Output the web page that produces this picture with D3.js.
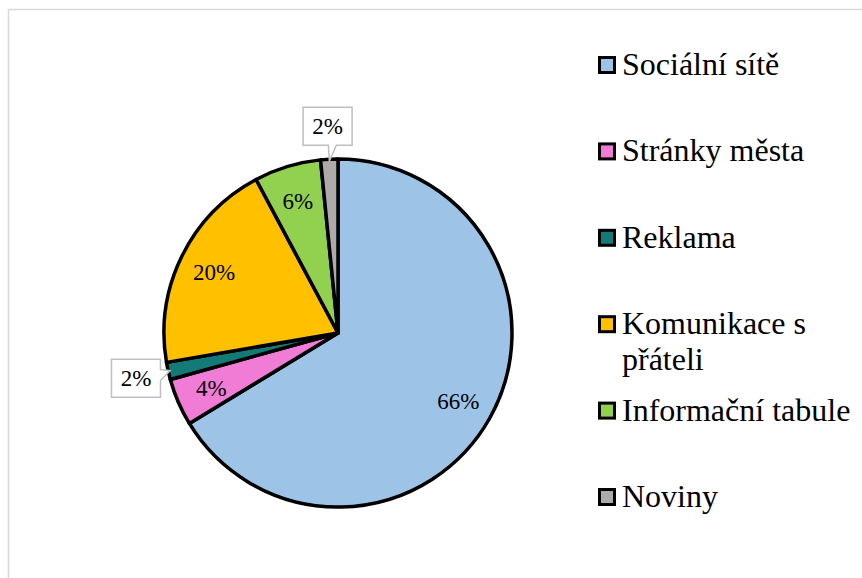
<!DOCTYPE html>
<html>
<head>
<meta charset="utf-8">
<script src="https://cdn.jsdelivr.net/npm/d3@7"></script>
</head>
<body style="margin:0">
<svg></svg>
<script>
// data (shares in %)
const categories = ["Sociální sítě", "Stránky města", "Reklama", "Komunikace s přáteli", "Informační tabule", "Noviny"];
const legendLines = [["Sociální sítě"], ["Stránky města"], ["Reklama"], ["Komunikace s", "přáteli"], ["Informační tabule"], ["Noviny"]];
const values = [66.3, 4.4, 1.6, 19.9, 6.2, 1.6];
const colors = ["#9dc3e6", "#f07cd6", "#137a78", "#ffc000", "#92d050", "#aeaaaa"];
// slices whose label sits in a callout box outside the pie
const callouts = ["Reklama", "Noviny"];

const width = 862;
const height = 578;
const cx = 338, cy = 333;
const radius = 174;

const svg = d3.select("svg")
    .attr("width", width)
    .attr("height", height);

// chart area border (only top and left visible)
svg.append("rect")
    .attr("x", 8.5).attr("y", 9.5)
    .attr("width", width + 20).attr("height", height + 20)
    .attr("fill", "none")
    .attr("stroke", "#d9d9d9")
    .attr("stroke-width", 1.5);

const data = categories.map((c, i) => ({name: c, value: values[i]}));
const total = d3.sum(values);

const color = d3.scaleOrdinal().domain(categories).range(colors);

const pie = d3.pie().sort(null).value(d => d.value);
const arcs = pie(data);

const arc = d3.arc().innerRadius(0).outerRadius(radius);
const labelArc = d3.arc().innerRadius(138).outerRadius(138);

const g = svg.append("g").attr("transform", `translate(${cx},${cy})`);

g.selectAll("path")
  .data(arcs)
  .join("path")
    .attr("d", arc)
    .attr("fill", d => color(d.data.name))
    .attr("stroke", "#000")
    .attr("stroke-width", 3.5)
    .attr("stroke-linejoin", "round");

const pct = d => Math.round(d.data.value / total * 100) + "%";

// callout boxes
const boxW = 49, boxH = 38, boxR = 207, tipR = 172;
const point = (a, r) => [Math.sin(a) * r, -Math.cos(a) * r];
const midAngle = d => (d.startAngle + d.endAngle) / 2;

function calloutPath(bx, by, tx, ty) {
  const x0 = bx - boxW / 2, x1 = bx + boxW / 2, y0 = by - boxH / 2, y1 = by + boxH / 2;
  const p = d3.path();
  if (ty > y1) {
    // pointer on bottom edge
    const px = Math.max(x0 + 6, Math.min(x1 - 12, tx));
    p.moveTo(x0, y0); p.lineTo(x1, y0); p.lineTo(x1, y1);
    p.lineTo(px + 7, y1); p.lineTo(tx, ty); p.lineTo(px - 1, y1);
    p.lineTo(x0, y1); p.closePath();
  } else if (tx > x1) {
    // pointer on right edge
    const py = Math.max(y0 + 3, Math.min(y1 - 12, ty));
    p.moveTo(x0, y0); p.lineTo(x1, y0);
    p.lineTo(x1, py - 1); p.lineTo(tx, ty); p.lineTo(x1, py + 10);
    p.lineTo(x1, y1); p.lineTo(x0, y1); p.closePath();
  } else {
    p.rect(x0, y0, boxW, boxH);
  }
  return p.toString();
}

g.selectAll("path.callout")
  .data(arcs.filter(d => callouts.includes(d.data.name)))
  .join("path")
    .attr("class", "callout")
    .attr("d", d => {
      const [bx, by] = point(midAngle(d), boxR);
      const [tx, ty] = point(midAngle(d), tipR);
      return calloutPath(bx, by, tx, ty);
    })
    .attr("fill", "#fff")
    .attr("stroke", "#bfbfbf")
    .attr("stroke-width", 1.5);

// percentage labels (inside the slices, or in the callout boxes)
svg.selectAll("text.pct")
  .data(arcs)
  .join("text")
    .attr("class", "pct")
    .attr("x", d => cx + (callouts.includes(d.data.name) ? point(midAngle(d), boxR) : labelArc.centroid(d))[0])
    .attr("y", d => cy + (callouts.includes(d.data.name) ? point(midAngle(d), boxR) : labelArc.centroid(d))[1] + 8)
    .attr("text-anchor", "middle")
    .attr("font-family", "Liberation Serif, Times New Roman, serif")
    .style("font-family", () => "Liberation Serif")
    .attr("font-size", 23)
    .text(pct);

// legend
const legendX = 598, legendY0 = 65, legendStep = 86.4;

svg.selectAll("rect.key")
  .data(categories)
  .join("rect")
    .attr("class", "key")
    .attr("x", legendX + 1.5)
    .attr("y", (d, i) => legendY0 + i * legendStep - 7.5)
    .attr("width", 15).attr("height", 15)
    .attr("fill", d => color(d))
    .attr("stroke", "#000")
    .attr("stroke-width", 3);

svg.selectAll("text.key")
  .data(categories)
  .join("text")
    .attr("class", "key")
    .attr("x", legendX + 24)
    .attr("y", (d, i) => legendY0 + i * legendStep + 10)
    .attr("font-family", "Liberation Serif, Times New Roman, serif")
    .style("font-family", () => "Liberation Serif")
    .attr("font-size", 32)
  .selectAll("tspan")
  .data((d, i) => legendLines[i])
  .join("tspan")
    .attr("x", legendX + 24)
    .attr("dy", (d, i) => i === 0 ? 0 : 36)
    .text(d => d);
</script>
</body>
</html>
